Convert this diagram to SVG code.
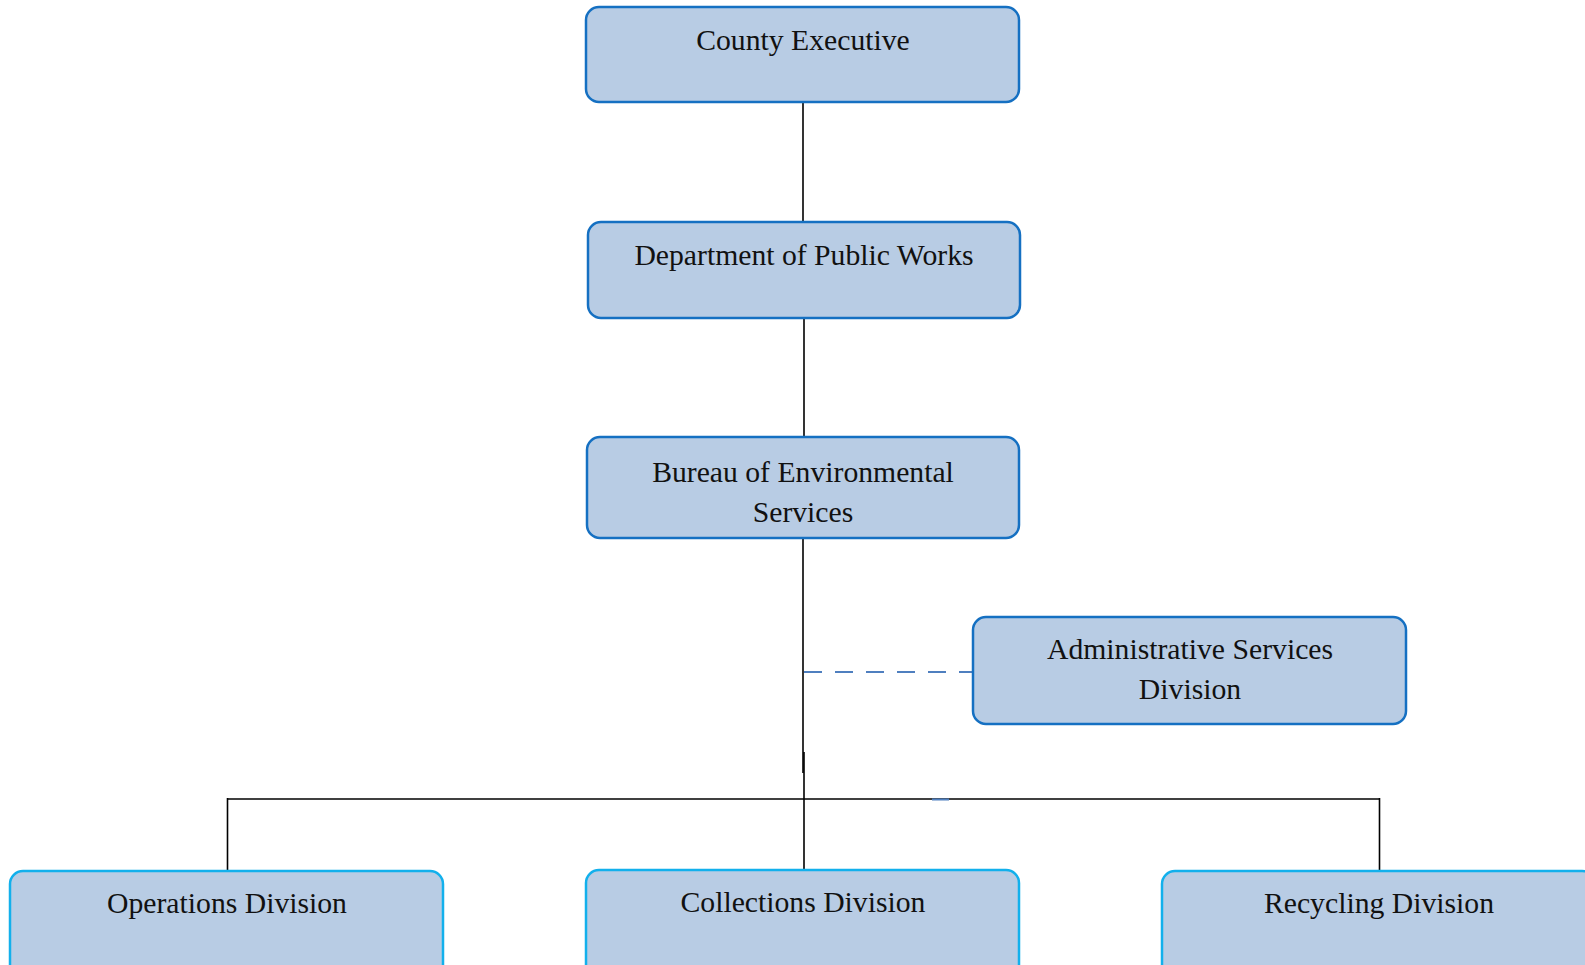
<svg xmlns="http://www.w3.org/2000/svg" width="1585" height="965" viewBox="0 0 1585 965">
<style>
.box{fill:#b8cce4;stroke:#1570c2;stroke-width:2.5}
.box2{fill:#b8cce4;stroke:#12b0ec;stroke-width:2.5}
.t{font-family:"Liberation Serif",serif;font-size:29.7px;fill:#111;text-anchor:middle}
.c{stroke:#000;stroke-width:1.6;fill:none}
.d{stroke:#4f7fbf;stroke-width:2;stroke-dasharray:18 13;fill:none}
</style>
<rect width="1585" height="965" fill="#fff"/>
<g id="connectors">
<line class="c" x1="803" y1="102" x2="803" y2="222"/>
<line class="c" x1="804" y1="318" x2="804" y2="437"/>
<line class="c" x1="803" y1="538" x2="803" y2="773"/>
<line class="c" x1="804" y1="752" x2="804" y2="870"/>
<line class="c" x1="227" y1="799" x2="1380" y2="799"/>
<line class="c" x1="227.5" y1="798" x2="227.5" y2="871"/>
<line class="c" x1="1379.5" y1="798" x2="1379.5" y2="871"/>
<line class="d" x1="804" y1="672" x2="973" y2="672"/>
<line x1="932" y1="799.5" x2="949" y2="799.5" stroke="#4f7fbf" stroke-width="2"/>
</g>
<g id="county-executive">
<rect class="box" x="586" y="7" width="433" height="95" rx="13"/>
<text class="t" x="803" y="50">County Executive</text>
</g>
<g id="public-works">
<rect class="box" x="588" y="222" width="432" height="96" rx="13"/>
<text class="t" x="804" y="265">Department of Public Works</text>
</g>
<g id="bureau">
<rect class="box" x="587" y="437" width="432" height="101" rx="13"/>
<text class="t" x="803" y="482">Bureau of Environmental</text>
<text class="t" x="803" y="522">Services</text>
</g>
<g id="admin">
<rect class="box" x="973" y="617" width="433" height="107" rx="13"/>
<text class="t" x="1190" y="659">Administrative Services</text>
<text class="t" x="1190" y="699">Division</text>
</g>
<g id="operations">
<rect class="box2" x="10" y="871" width="433" height="110" rx="13"/>
<text class="t" x="227" y="913">Operations Division</text>
</g>
<g id="collections">
<rect class="box2" x="586" y="870" width="433" height="110" rx="13"/>
<text class="t" x="803" y="912">Collections Division</text>
</g>
<g id="recycling">
<rect class="box2" x="1162" y="871" width="433" height="110" rx="13"/>
<text class="t" x="1379" y="913">Recycling Division</text>
</g>
</svg>
